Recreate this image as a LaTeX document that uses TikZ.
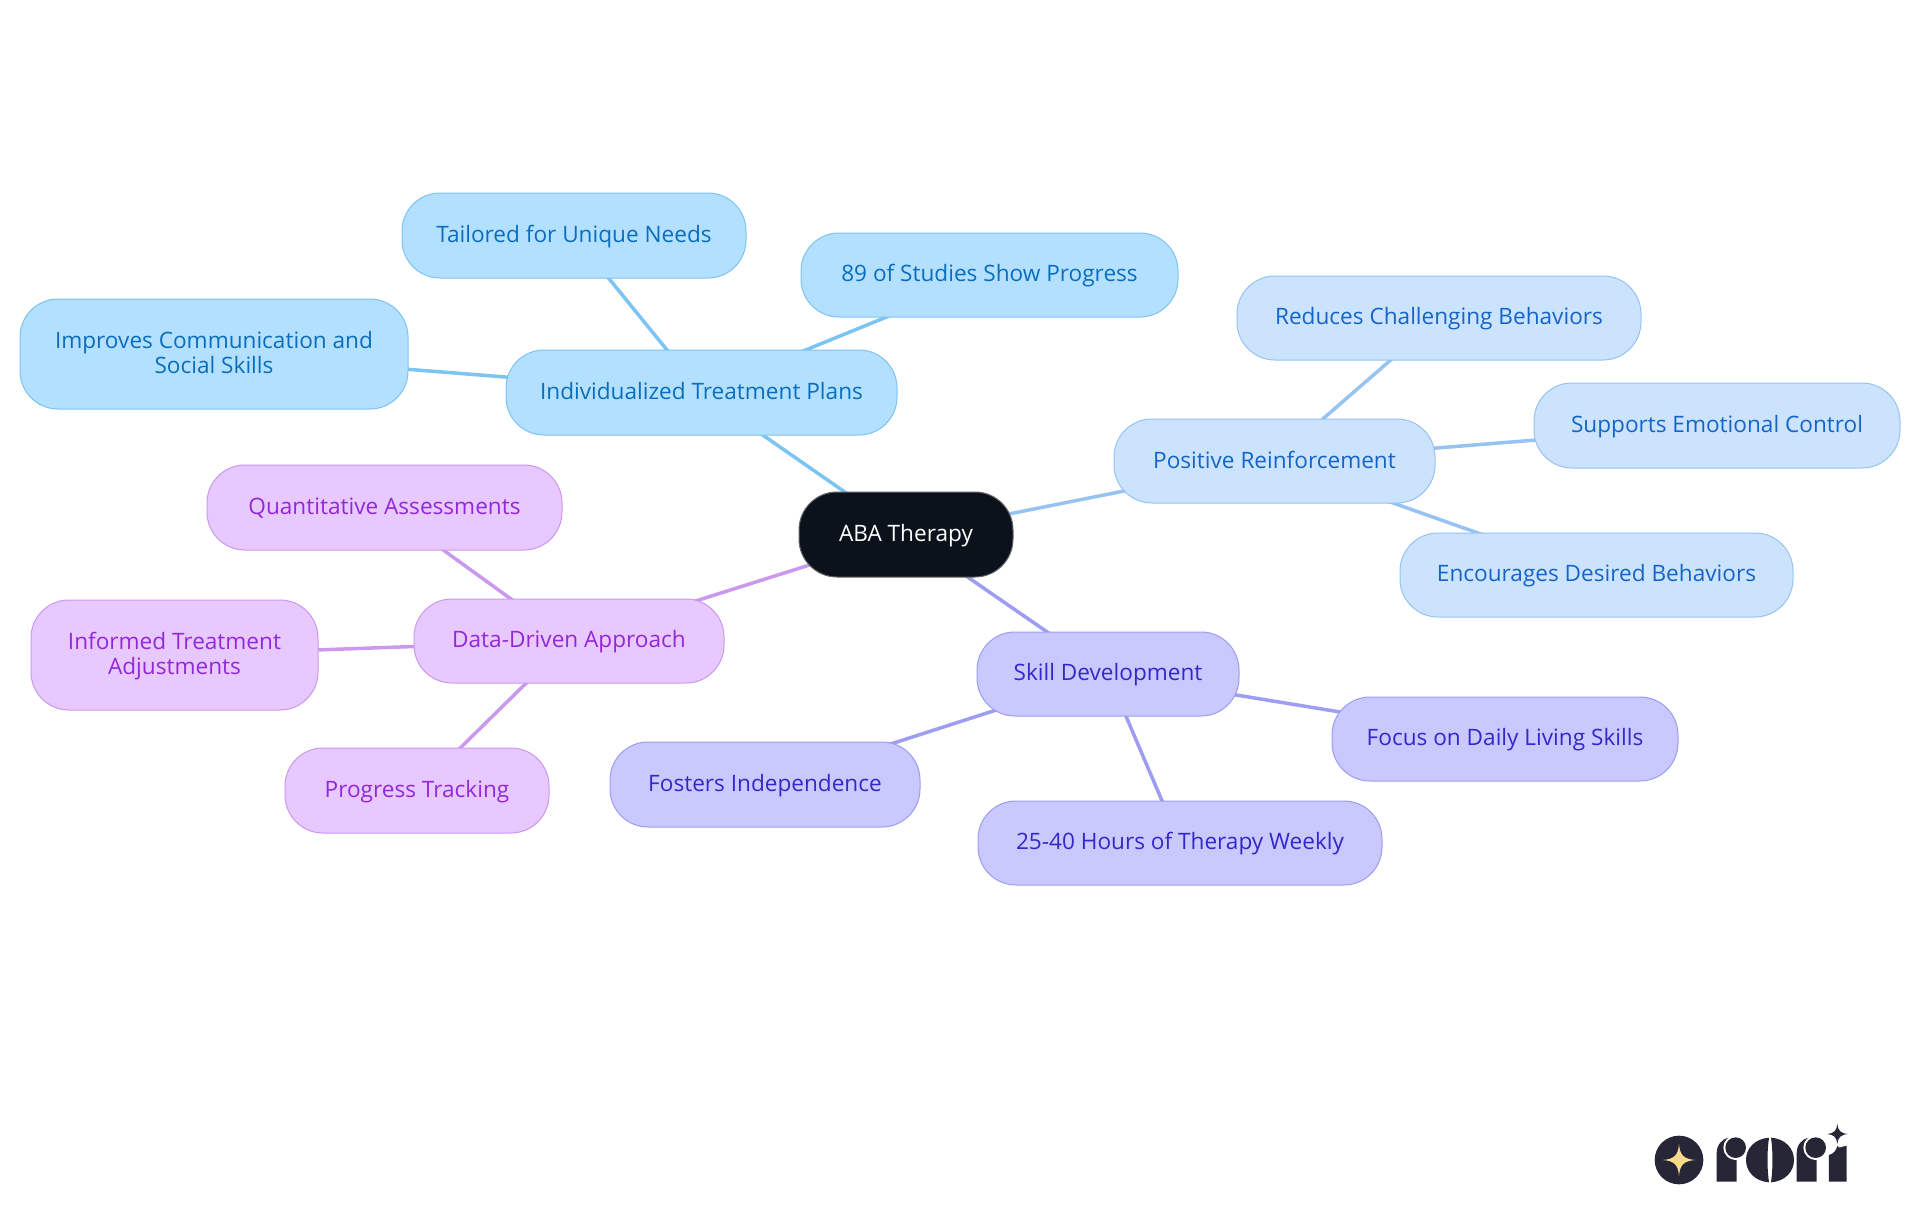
\documentclass[tikz,border=0pt]{standalone}
\usepackage{fontspec}
\usetikzlibrary{backgrounds}
\setmainfont{Open Sans}
\definecolor{bA}{HTML}{B3E0FF}\definecolor{bB}{HTML}{7CC4F2}\definecolor{bC}{HTML}{0A6EBD}
\definecolor{lA}{HTML}{CCE3FD}\definecolor{lB}{HTML}{96C3F2}\definecolor{lC}{HTML}{1565C8}
\definecolor{iA}{HTML}{C9C9FF}\definecolor{iB}{HTML}{9D9DF2}\definecolor{iC}{HTML}{3328C8}
\definecolor{pA}{HTML}{E8C9FF}\definecolor{pB}{HTML}{CB98F0}\definecolor{pC}{HTML}{9328D8}
\definecolor{rootfill}{HTML}{0B121B}\definecolor{logoc}{HTML}{272636}\definecolor{logostar}{HTML}{FBD98B}
\tikzset{
 x=1pt,y=-1pt,
 box/.style={rectangle,rounded corners=38pt,line width=1pt,align=center,font=\fontsize{22.6}{25}\selectfont,inner sep=0pt},
 blue/.style={box,fill=bA,draw=bB,text=bC},
 light/.style={box,fill=lA,draw=lB,text=lC},
 indi/.style={box,fill=iA,draw=iB,text=iC},
 purp/.style={box,fill=pA,draw=pB,text=pC},
 root/.style={box,fill=rootfill,draw=black!60,text=white},
 link/.style={line width=3.5pt},
}
\newcommand{\st}{\rule[-5pt]{0pt}{24pt}}
\newcommand{\bx}[7]{\node[#1,minimum width=#5pt-#3pt,minimum height=#6pt-#4pt] (#2) at ({(#3+#5)/2},{(#4+#6)/2}) {\st #7};}
\begin{document}
\begin{tikzpicture}
\useasboundingbox (0,0) rectangle (1920,1215);
\bx{root}{nroot}{799}{492}{1013}{577}{ABA Therapy}
\bx{blue}{nind}{506}{350}{897}{435}{Individualized Treatment Plans}
\bx{blue}{ntai}{402}{193}{746}{278}{Tailored for Unique Needs}
\bx{blue}{nstu}{801}{233}{1178}{317}{89 of Studies Show Progress}
\bx{blue}{nimp}{20}{299}{408}{409}{Improves Communication and\\\st Social Skills}
\bx{light}{npos}{1114}{419}{1435}{503}{Positive Reinforcement}
\bx{light}{nred}{1237}{276}{1641}{360}{Reduces Challenging Behaviors}
\bx{light}{nsup}{1534}{383}{1900}{468}{Supports Emotional Control}
\bx{light}{nenc}{1400}{533}{1793}{617}{Encourages Desired Behaviors}
\bx{indi}{nski}{977}{632}{1239}{716}{Skill Development}
\bx{indi}{nfoc}{1332}{697}{1678}{781}{Focus on Daily Living Skills}
\bx{indi}{nhou}{978}{801}{1382}{885}{25-40 Hours of Therapy Weekly}
\bx{indi}{nfos}{610}{742}{920}{827}{Fosters Independence}
\bx{purp}{ndat}{414}{599}{724}{683}{Data-Driven Approach}
\bx{purp}{nqua}{207}{465}{562}{550}{Quantitative Assessments}
\bx{purp}{ninf}{31}{600}{318}{710}{Informed Treatment\\\st Adjustments}
\bx{purp}{npro}{285}{748}{549}{833}{Progress Tracking}
\begin{scope}[on background layer]
\fill[white] (0,0) rectangle (1920,1215);
\begin{scope}[link]
\draw[bB] (nroot.center)--(nind.center) (nind.center)--(ntai.center) (nind.center)--(nstu.center) (nind.center)--(nimp.center);
\draw[lB] (nroot.center)--(npos.center) (npos.center)--(nred.center) (npos.center)--(nsup.center) (npos.center)--(nenc.center);
\draw[iB] (nroot.center)--(nski.center) (nski.center)--(nfoc.center) (nski.center)--(nhou.center) (nski.center)--(nfos.center);
\draw[pB] (nroot.center)--(ndat.center) (ndat.center)--(nqua.center) (ndat.center)--(ninf.center) (ndat.center)--(npro.center);
\end{scope}
\end{scope}
% logo, in coordinates of a 3x crop
\begin{scope}[shift={(1620,1100)},x=0.3333pt,y=-0.3333pt]
\fill[logoc] (177,180) circle [radius=73];
\fill[logostar] (177,132) .. controls (180,165) and (190,177) .. (226,180) .. controls (190,183) and (180,195) .. (177,228) .. controls (174,195) and (164,183) .. (129,180) .. controls (164,177) and (174,165) .. (177,132) -- cycle;
\foreach \dx in {0,240}{
\fill[logoc,shift={(\dx,0)}] (290,245) -- (290,160) .. controls (290,135) and (305,117) .. (327,113) -- (350,113) -- (350,245) -- cycle;
\fill[white,shift={(\dx,0)}] (347,143) circle [radius=37];
\fill[logoc,shift={(\dx,0)}] (347,143) circle [radius=31];
}
\fill[logoc] (447,113) .. controls (405,116) and (378,145) .. (378,180) .. controls (378,215) and (405,244) .. (447,247) .. controls (441,205) and (441,155) .. (447,113) -- cycle;
\fill[logoc] (453,113) .. controls (495,116) and (522,145) .. (522,180) .. controls (522,215) and (495,244) .. (453,247) .. controls (459,205) and (459,155) .. (453,113) -- cycle;
\fill[logoc] (627,245) -- (627,165) .. controls (640,162) and (650,150) .. (652,137) .. controls (654,147) and (665,140) .. (680,137) -- (680,245) -- cycle;
\fill[logoc] (652,72) .. controls (654,92) and (662,100) .. (684,102) .. controls (662,104) and (654,112) .. (652,132) .. controls (650,112) and (642,104) .. (622,102) .. controls (642,100) and (650,92) .. (652,72) -- cycle;
\end{scope}
\end{tikzpicture}
\end{document}
